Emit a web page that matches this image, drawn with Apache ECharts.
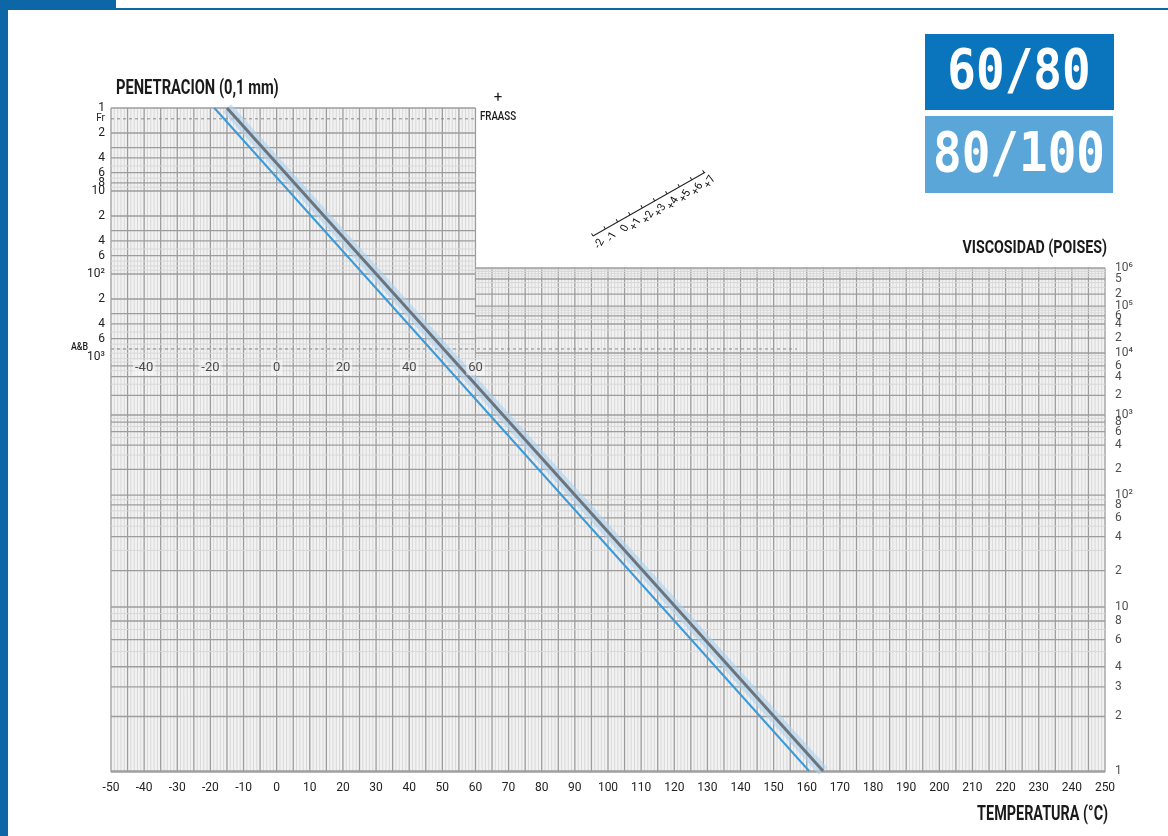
<!DOCTYPE html>
<html>
<head>
<meta charset="utf-8">
<title>60/80 - 80/100</title>
<script src="https://cdn.jsdelivr.net/npm/echarts@6.0.0/dist/echarts.min.js"></script>
<style>
    html, body { margin: 0; padding: 0; background: #fff; }
    #main { width: 1168px; height: 836px; }
</style>
</head>
<body>
<div id="main"></div>
<script>
// datos -------------------------------------------------------------
var gradeNames = ['60-80', '80-100'];
var tempAtPen1 = [-15.0, -18.8];     // °C donde la recta corta penetracion = 1
var tempAtVisc1 = [164.9, 160.7];    // °C donde la recta corta viscosidad = 1 poise

var penTempTicks = [-40, -20, 0, 20, 40, 60];
var penTicks = [1, 1.35, 2, 4, 6, 8, 10, 20, 40, 60, 100, 200, 400, 600, 1000];
var penTickLabels = ['1', '{s|Fr}', '2', '4', '6', '8', '10', '2', '4', '6', '10²', '2', '4', '6', '10³'];
var viscTicks = [1e6, 5e5, 2e5, 1e5, 6e4, 4e4, 2e4, 1e4, 6e3, 4e3, 2e3, 1e3, 800, 600, 400, 200,
    100, 80, 60, 40, 20, 10, 8, 6, 4, 3, 2, 1];
var viscTickLabels = ['10⁶', '5', '2', '10⁵', '6', '4', '2', '10⁴', '6', '4', '2', '10³', '8', '6', '4', '2',
    '10²', '8', '6', '4', '2', '10', '8', '6', '4', '3', '2', '1'];
var piTicks = ['-2', '-1', '0', '+1', '+2', '+3', '+4', '+5', '+6', '+7'];

// escalas -----------------------------------------------------------
// eje vertical comun: decadas de penetracion (0 = 1 dmm arriba)
var Y_MAX = 8;
function penToY(p) { return Math.log10(p); }
// escala de viscosidad (log-log por tramos), en unidades del eje vertical
var viscDecadeY = [7.988, 6.012, 4.663, 3.699, 2.952, 2.386, 1.928];
function viscToY(v) {
    var u = Math.log10(v);
    var k = Math.min(5, Math.max(0, Math.floor(u)));
    var g = function (x) { return Math.log10(x + 3); };
    var f = (g(u) - g(k)) / (g(k + 1) - g(k));
    return viscDecadeY[k] + (viscDecadeY[k + 1] - viscDecadeY[k]) * f;
}
function labelMap(vals, labels, fn) {
    var m = {};
    vals.forEach(function (v, i) { m[fn(v).toFixed(4)] = labels[i]; });
    return m;
}
var penMap = labelMap(penTicks, penTickLabels, penToY);
var PEN_TEMP_ROW = 3.13;   // fila de la escala de temperatura de penetracion

var FONT = 'Roboto, "Noto Sans", sans-serif';
var MONO = '"DejaVu Sans Mono", "Liberation Mono", monospace';

// papel milimetrado --------------------------------------------------
function renderPaper(params, api) {
    var c = [];
    var yTopR = viscToY(1e6);
    var poly = [[-50, 0], [60, 0], [60, yTopR], [250, yTopR], [250, Y_MAX], [-50, Y_MAX]].map(function (q) {
        return api.coord(q);
    });
    c.push({ type: 'polygon', shape: { points: poly }, style: { fill: '#f2f2f2' } });

    function seg(t1, y1, t2, y2, major, dash) {
        var a = api.coord([t1, y1]), b = api.coord([t2, y2]);
        c.push({
            type: 'line',
            shape: { x1: a[0], y1: a[1], x2: b[0], y2: b[1] },
            style: {
                stroke: dash ? '#8a8a8a' : (major ? '#9c9c9c' : '#d8d8d8'),
                lineWidth: major ? 1.3 : 1,
                lineDash: dash ? [3, 3] : null
            }
        });
    }
    var t, k, m, v;
    // verticales
    for (t = -50; t <= 250; t++) {
        seg(t, t <= 60 ? 0 : yTopR, t, Y_MAX, t % 5 === 0);
    }
    // horizontales penetracion
    for (k = 0; k < 3; k++) {
        for (m = 1; m < 10; m++) {
            v = m * Math.pow(10, k);
            seg(-50, penToY(v), 60, penToY(v), penTicks.indexOf(v) >= 0 || m === 3);
        }
    }
    // horizontales viscosidad
    for (k = 0; k < 6; k++) {
        for (m = 1; m < 10; m++) {
            v = m * Math.pow(10, k);
            var y = viscToY(v);
            seg(y < penToY(1000) ? 60 : -50, y, 250, y, viscTicks.indexOf(v) >= 0);
        }
    }
    seg(60, yTopR, 250, yTopR, true);
    seg(-50, Y_MAX, 250, Y_MAX, true);
    // Fraass y A&B
    seg(-50, penToY(1.35), 60, penToY(1.35), false, true);
    seg(-50, penToY(800), 157, penToY(800), false, true);
    return { type: 'group', children: c, silent: true };
}

function gradeLine(i) {
    return [[tempAtPen1[i], penToY(1)], [tempAtVisc1[i], viscToY(1)]];
}

var noLine = { axisLine: { show: false }, axisTick: { show: false }, splitLine: { show: false } };

var myChart = echarts.init(document.getElementById('main'));
var option = {
    animation: false,
    grid: { left: 111, top: 108, width: 994, height: 664 },
    xAxis: Object.assign({
        type: 'value', min: -50, max: 250, interval: 10,
        axisLabel: { margin: 10, color: '#222', fontSize: 12, fontFamily: FONT, showMinLabel: true, showMaxLabel: true }
    }, noLine),
    yAxis: Object.assign({
        type: 'value', min: 0, max: Y_MAX, inverse: true, position: 'left',
        axisLabel: {
            customValues: penTicks.map(penToY), margin: 6, color: '#222', fontSize: 12, fontFamily: FONT,
            showMinLabel: true, showMaxLabel: true,
            formatter: function (val) { return penMap[val.toFixed(4)] || ''; },
            rich: { s: { fontSize: 10, fontFamily: FONT, color: '#222' } }
        }
    }, noLine),
    series: [{
        type: 'custom', name: 'papel', renderItem: renderPaper, data: [[0, 0]], silent: true, z: 1
    }, {
        // escala de temperatura para la penetracion
        type: 'scatter', name: 'temp pen', symbolSize: 0, silent: true, z: 4,
        data: penTempTicks.map(function (t) { return [t, PEN_TEMP_ROW]; }),
        label: {
            show: true, position: 'inside', color: '#222', fontSize: 13, fontFamily: FONT,
            backgroundColor: 'rgba(250,250,250,0.7)', padding: [1, 2],
            formatter: function (p) { return String(p.value[0]); }
        }
    }, {
        // escala de viscosidad (derecha)
        type: 'scatter', name: 'viscosidad', symbolSize: 0, silent: true, z: 4, clip: false,
        data: viscTicks.map(function (v, i) { return { value: [250, viscToY(v)], name: viscTickLabels[i] }; }),
        label: {
            show: true, position: 'right', distance: 10, color: '#222', fontSize: 12, fontFamily: FONT,
            formatter: function (p) { return p.name; }
        },
        labelLayout: { hideOverlap: false }
    }, {
        type: 'line', name: gradeNames[0] + ' halo', data: gradeLine(0), symbol: 'none', silent: true, z: 2,
        lineStyle: { width: 11, color: 'rgba(170,210,240,0.6)' }
    }, {
        type: 'line', name: gradeNames[0], data: gradeLine(0), symbol: 'none', z: 3,
        lineStyle: { width: 3, color: '#6d737a' }
    }, {
        type: 'line', name: gradeNames[1], data: gradeLine(1), symbol: 'none', z: 3,
        lineStyle: { width: 2, color: '#3b9ad9' }
    }],
    graphic: [
        // marco azul
        { type: 'rect', shape: { x: 0, y: 0, width: 8, height: 836 }, style: { fill: '#0d67a7' } },
        { type: 'rect', shape: { x: 0, y: 0, width: 116, height: 10 }, style: { fill: '#0d67a7' } },
        { type: 'rect', shape: { x: 116, y: 8, width: 1052, height: 2 }, style: { fill: '#0d67a7' } },
        // cajas de titulo
        { type: 'rect', shape: { x: 925, y: 34, width: 189, height: 76 }, style: { fill: '#0a74bc' } },
        { type: 'text', x: 1019, y: 73, scaleX: 0.85, style: { text: '60/80', fill: '#fff', font: 'bold 56px ' + MONO, align: 'center', verticalAlign: 'middle' } },
        { type: 'rect', shape: { x: 925, y: 116, width: 188, height: 77 }, style: { fill: '#5ba6d8' } },
        { type: 'text', x: 1019, y: 156, scaleX: 0.85, style: { text: '80/100', fill: '#fff', font: 'bold 56px ' + MONO, align: 'center', verticalAlign: 'middle' } },
        // titulos de ejes
        { type: 'text', x: 116, y: 89, scaleX: 0.7, style: { text: 'PENETRACION (0,1 mm)', fill: '#1a1a1a', font: 'bold 21px ' + FONT, verticalAlign: 'middle' } },
        { type: 'text', x: 1107, y: 248, scaleX: 0.75, style: { text: 'VISCOSIDAD (POISES)', fill: '#1a1a1a', font: 'bold 19px ' + FONT, align: 'right', verticalAlign: 'middle' } },
        { type: 'text', x: 1108, y: 815, scaleX: 0.72, style: { text: 'TEMPERATURA (°C)', fill: '#1a1a1a', font: 'bold 20px ' + FONT, align: 'right', verticalAlign: 'middle' } },
        { type: 'text', x: 498, y: 98, style: { text: '+', fill: '#1a1a1a', font: '15px ' + FONT, align: 'center', verticalAlign: 'middle' } },
        { type: 'text', x: 498, y: 117, scaleX: 0.75, style: { text: 'FRAASS', fill: '#1a1a1a', font: '500 13px ' + FONT, align: 'center', verticalAlign: 'middle' } },
        { type: 'text', x: 88, y: 347, scaleX: 0.8, style: { text: 'A&B', fill: '#1a1a1a', font: '500 11px ' + FONT, align: 'right', verticalAlign: 'middle' } },
        { type: 'text', x: 816, y: 347, scaleX: 0.8, style: { text: 'A&B', fill: '#333', font: '500 10px ' + FONT, align: 'center', verticalAlign: 'middle' } },
        // nombres de las rectas
        { type: 'text', x: 540, y: 406, style: { text: gradeNames[0], fill: '#1a7cc1', font: 'bold 19px ' + MONO, align: 'center', verticalAlign: 'middle' } },
        { type: 'text', x: 479, y: 466, style: { text: gradeNames[1], fill: '#5aa6d8', font: 'bold 19px ' + MONO, align: 'center', verticalAlign: 'middle' } },
        // escala de indice de penetracion (Fraass)
        {
            type: 'group', x: 593, y: 236, rotation: 0.517,
            children: [{ type: 'line', shape: { x1: 0, y1: 0, x2: 129, y2: 0 }, style: { stroke: '#222', lineWidth: 1 } }]
                .concat(piTicks.map(function (s, i) {
                    return { type: 'line', shape: { x1: i * 14.2, y1: 0, x2: i * 14.2, y2: -3 }, style: { stroke: '#222', lineWidth: 1 } };
                }))
                .concat(piTicks.map(function (s, i) {
                    return {
                        type: 'text', x: i * 14.2 + 3, y: 3, rotation: 0.55,
                        style: { text: s, fill: '#111', font: '11px ' + FONT, align: 'right', verticalAlign: 'top' }
                    };
                }))
        }
    ]
};
myChart.setOption(option);
</script>
</body>
</html>
